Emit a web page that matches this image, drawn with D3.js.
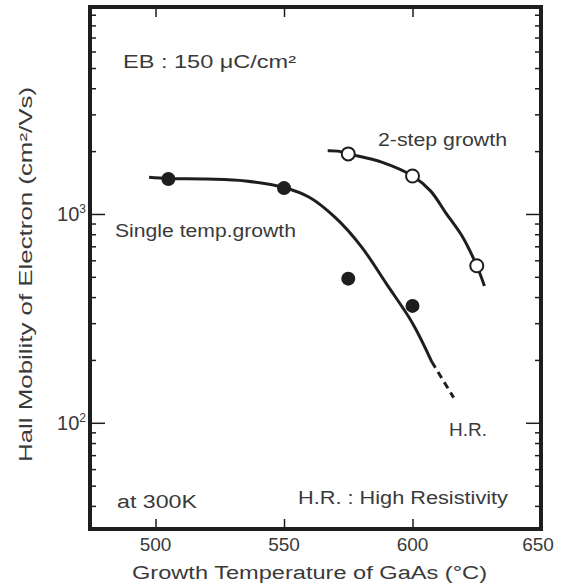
<!DOCTYPE html>
<html>
<head>
<meta charset="utf-8">
<script src="https://cdn.jsdelivr.net/npm/d3@7"></script>
<style>
  body { margin: 0; background: #fff; }
  svg { display: block; font-family: "Liberation Sans", Arial, sans-serif; }
  .txt { fill: #3a3a3a; }
</style>
</head>
<body>
<svg id="chart" width="572" height="585"></svg>
<script>
// measured points (temperature in °C, mobility in cm2/Vs)
const singleT = [505, 550, 575, 600];
const singleMu = [1470, 1330, 490, 363];
const twoStepT = [575, 600, 625];
const twoStepMu = [1940, 1520, 565];

// hand-drawn guide curves
const singleFitT = [497.5, 505, 520, 535, 550, 560, 570, 580, 590, 600, 607.5];
const singleFitMu = [1500, 1480, 1470, 1440, 1340, 1200, 960, 700, 460, 300, 196];
const singleDashT = [607.5, 616];
const singleDashMu = [196, 132];
const twoFitT = [567, 571, 575, 588, 600, 607, 613, 619.5, 625, 628];
const twoFitMu = [2010, 2000, 1940, 1770, 1520, 1290, 1010, 776, 565, 452];

// axis ticks
const xTicks = [500, 550, 600, 650];
const yMajor = [100, 1000];
const yMinor = [40, 50, 60, 70, 80, 90, 200, 300, 400, 500, 600, 700, 800, 900,
  2000, 3000, 4000, 5000, 6000, 7000, 8000, 9000];
const yLabels = [{ v: 100, sup: "2" }, { v: 1000, sup: "3" }];

const svg = d3.select("#chart");
const ink = "#1e1e1e";

const x = d3.scaleLinear().domain([474.5, 650]).range([90, 541]);
const y = d3.scaleLog().domain([31, 9800]).range([529, 7]);

const zip = (a, b) => a.map((d, i) => [d, b[i]]);

// bottom axis, ticks pointing in
svg.append("g")
  .attr("transform", "translate(0,529)")
  .call(d3.axisBottom(x).tickValues(xTicks.slice(0, 3)).tickSizeInner(-10).tickSizeOuter(0).tickFormat(""))
  .call(g => g.select(".domain").remove());
svg.append("g")
  .selectAll("text")
  .data(xTicks)
  .join("text")
  .attr("class", "txt")
  .attr("x", d => (d === 650 ? x(d) - 3 : x(d)))
  .attr("y", 551)
  .attr("text-anchor", "middle")
  .attr("font-size", 19)
  .text(d => d);

// top axis
svg.append("g")
  .attr("transform", "translate(0,7)")
  .call(d3.axisTop(x).tickValues(xTicks.slice(0, 3)).tickSizeInner(-10).tickSizeOuter(0).tickFormat(""))
  .call(g => g.select(".domain").remove());

// left + right axes
[[90, d3.axisLeft], [541, d3.axisRight]].forEach(([pos, ax]) => {
  svg.append("g")
    .attr("transform", `translate(${pos},0)`)
    .call(ax(y).tickValues(yMajor).tickSizeInner(-15).tickSizeOuter(0).tickFormat(""))
    .call(g => g.select(".domain").remove());
  svg.append("g")
    .attr("transform", `translate(${pos},0)`)
    .call(ax(y).tickValues(yMinor).tickSizeInner(-6).tickSizeOuter(0).tickFormat(""))
    .call(g => g.select(".domain").remove());
});
svg.selectAll(".tick line").attr("stroke", ink).attr("stroke-width", 1.5);

// y tick labels with superscripts
const yl = svg.append("g").selectAll("text")
  .data(yLabels)
  .join("text")
  .attr("class", "txt")
  .attr("x", 86)
  .attr("y", d => y(d.v) + 7)
  .attr("text-anchor", "end")
  .attr("font-size", 20);
yl.append("tspan").text("10");
yl.append("tspan").attr("dy", -8).attr("font-size", 12).text(d => d.sup);

// frame
svg.append("rect")
  .attr("x", 90).attr("y", 7)
  .attr("width", 451).attr("height", 522)
  .attr("fill", "none")
  .attr("stroke", ink)
  .attr("stroke-width", 4);

// curves
const line = d3.line()
  .x(d => x(d[0]))
  .y(d => y(d[1]))
  .curve(d3.curveCatmullRom.alpha(0.5));

svg.append("path")
  .attr("d", line(zip(singleFitT, singleFitMu)))
  .attr("fill", "none").attr("stroke", ink).attr("stroke-width", 3);
svg.append("path")
  .attr("d", line(zip(singleDashT, singleDashMu)))
  .attr("fill", "none").attr("stroke", ink).attr("stroke-width", 3)
  .attr("stroke-dasharray", "7 5");
svg.append("path")
  .attr("d", line(zip(twoFitT, twoFitMu)))
  .attr("fill", "none").attr("stroke", ink).attr("stroke-width", 3);

// points
svg.append("g").selectAll("circle")
  .data(zip(singleT, singleMu))
  .join("circle")
  .attr("cx", d => x(d[0]))
  .attr("cy", d => y(d[1]))
  .attr("r", 7)
  .attr("fill", ink);
svg.append("g").selectAll("circle")
  .data(zip(twoStepT, twoStepMu))
  .join("circle")
  .attr("cx", d => x(d[0]))
  .attr("cy", d => y(d[1]))
  .attr("r", 6.5)
  .attr("fill", "#fff")
  .attr("stroke", ink)
  .attr("stroke-width", 2);

// annotations
const notes = [
  { t: "EB : 150 μC/cm²", x: 123, y: 68, w: 173 },
  { t: "2-step growth", x: 378, y: 146, w: 129 },
  { t: "Single temp.growth", x: 115, y: 237, w: 181 },
  { t: "H.R.", x: 449, y: 436, w: 38 },
  { t: "at 300K", x: 117, y: 508, w: 80 },
  { t: "H.R. : High Resistivity", x: 298, y: 504, w: 210 }
];
svg.append("g").selectAll("text")
  .data(notes)
  .join("text")
  .attr("class", "txt")
  .attr("x", d => d.x)
  .attr("y", d => d.y)
  .attr("font-size", 18)
  .attr("textLength", d => d.w)
  .attr("lengthAdjust", "spacingAndGlyphs")
  .text(d => d.t);

// axis titles
svg.append("text")
  .attr("class", "txt")
  .attr("x", 132).attr("y", 579)
  .attr("font-size", 18)
  .attr("textLength", 355)
  .attr("lengthAdjust", "spacingAndGlyphs")
  .text("Growth Temperature of GaAs  (°C)");

svg.append("text")
  .attr("class", "txt")
  .attr("transform", "translate(32,462) rotate(-90)")
  .attr("font-size", 18)
  .attr("textLength", 375)
  .attr("lengthAdjust", "spacingAndGlyphs")
  .text("Hall Mobility of Electron  (cm²/Vs)");
</script>
</body>
</html>
